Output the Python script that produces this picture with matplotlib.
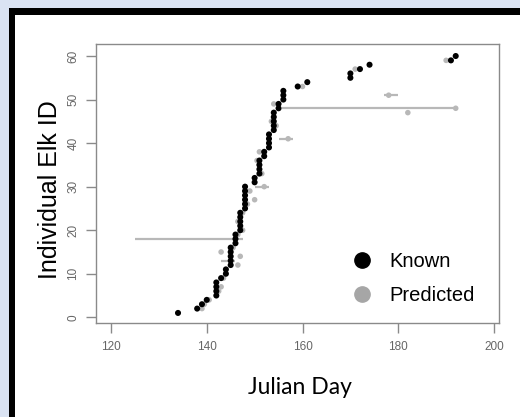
import matplotlib
matplotlib.use("Agg")
import matplotlib.pyplot as plt
from matplotlib.patches import Rectangle
from matplotlib.lines import Line2D

# Known calving days (Julian day) per elk ID
known_ids = list(range(1, 61))
known_days = [134, 138, 139, 140, 142, 142, 142, 142, 143, 144,
              144, 145, 145, 145, 145, 145, 146, 146, 146, 147,
              147, 147, 147, 147, 148, 148, 148, 148, 148, 148,
              150, 150, 151, 151, 151, 151, 152, 152, 153, 153,
              153, 153, 154, 154, 154, 154, 154, 155, 155, 156,
              156, 156, 159, 161, 170, 170, 172, 174, 191, 192]

# Predicted days (grey points)
pred_ids = [2, 3, 4, 6, 7, 9, 12, 14, 15, 16, 19, 20, 22, 24, 26, 27, 29, 30,
            33, 35, 36, 38, 41, 44, 45, 47, 48, 49, 51, 53, 57, 59]
pred_days = [139, 139.5, 140.5, 142.5, 143, 143.5, 146.5, 147, 143, 145.5,
             146.5, 147.5, 146.5, 147.5, 148.5, 150, 149, 152,
             151.5, 151, 150.5, 151, 157, 154.5, 153.5, 182, 192, 154,
             178, 160, 171, 190]

# Predicted ranges (grey horizontal segments)
seg_ids = [18, 48, 41, 51, 30, 13]
seg_start = [125, 155.7, 155, 177, 150, 143]
seg_end = [147.6, 192, 158, 180, 153, 146]

W, H = 520, 417
fig = plt.figure(figsize=(W / 100, H / 100), dpi=100)
fig.patch.set_facecolor("#dae3f3")
fig.add_artist(Rectangle((9 / W, 0), 1, (H - 8) / H, transform=fig.transFigure,
                         facecolor="black", edgecolor="none", zorder=-3))
fig.add_artist(Rectangle((15 / W, 0), 1, (H - 15) / H, transform=fig.transFigure,
                         facecolor="white", edgecolor="none", zorder=-2))

ax = fig.add_axes([96 / W, 1 - 323 / H, (499 - 96) / W, (323 - 44) / H])
ax.set_xlim(116.87, 201.04)
ax.set_ylim(-1.31, 62.76)

grey = "#b8b8b8"
for i, s, e in zip(seg_ids, seg_start, seg_end):
    ax.plot([s, e], [i, i], color=grey, lw=1.6, solid_capstyle="butt", zorder=1)
ax.scatter(pred_days, pred_ids, s=16, color=grey, edgecolors="none", zorder=2)
ax.scatter(known_days, known_ids, s=19, color="black", edgecolors="none", zorder=3)

ax.set_xticks([120, 140, 160, 180, 200])
ax.set_yticks([0, 10, 20, 30, 40, 50, 60])
for sp in ax.spines.values():
    sp.set_color("#8a8a8a")
    sp.set_linewidth(1.0)
ax.tick_params(axis="both", colors="#8a8a8a", length=7, width=1.0,
               labelcolor="#666666", labelsize=8.5)
ax.tick_params(axis="x", pad=6)
ax.tick_params(axis="y", pad=5)
for lab in ax.get_xticklabels():
    lab.set_fontfamily("Liberation Sans")
for lab in ax.get_yticklabels():
    lab.set_fontfamily("Liberation Sans")
    lab.set_rotation(90)
    lab.set_va("center")

fig.text(50 / W, 1 - 190 / H, "Individual Elk ID", rotation=90, ha="center",
         va="center", fontsize=18, family="Liberation Sans", color="black")
fig.text(300 / W, 1 - 387 / H, "Julian Day", ha="center", va="center",
         fontsize=16.5, family="Lato", color="black")

handles = [Line2D([], [], ls="none", marker="o", color="black", markersize=11),
           Line2D([], [], ls="none", marker="o", color="#a6a6a6", markersize=11)]
leg = ax.legend(handles, ["Known", "Predicted"], loc="upper left",
                bbox_to_anchor=(352 / W, 1 - 252 / H), bbox_transform=fig.transFigure,
                frameon=False, handlelength=1.0, handletextpad=0.85,
                labelspacing=0.75, borderpad=0, borderaxespad=0,
                prop={"family": "Liberation Sans", "size": 14.5})

fig.savefig("out.png", dpi=100)
